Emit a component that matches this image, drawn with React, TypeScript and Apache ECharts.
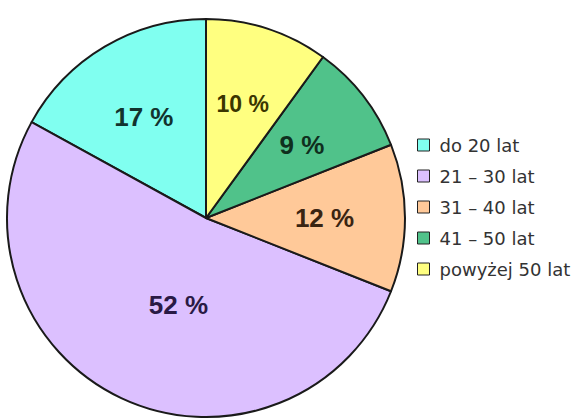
import React, { useEffect, useRef } from "react";
import * as echarts from "echarts";

const categories = ["do 20 lat", "21 – 30 lat", "31 – 40 lat", "41 – 50 lat", "powyżej 50 lat"];
const values = [17, 52, 12, 9, 10];
const colors = ["#80FFF0", "#DCC0FF", "#FFC999", "#50C28A", "#FFFF80"];
const labelColors = ["#12332e", "#2a1a45", "#3a2412", "#0f2f1e", "#3a3600"];
// label nudges (style only)
const labelNudge = [
  [-10, -13],
  [16, -6],
  [16, 0],
  [15, -10],
  [5, -17],
];

export default function App() {
  const ref = useRef<HTMLDivElement>(null);
  useEffect(() => {
    document.body.style.margin = "0";
    const chart = echarts.init(ref.current!, undefined, { renderer: "svg" });
    chart.setOption({
      animation: false,
      backgroundColor: "#ffffff",
      legend: {
        orient: "vertical",
        left: 412,
        top: 131,
        itemWidth: 12,
        itemHeight: 12,
        itemGap: 13,
        icon: "rect",
        itemStyle: { borderColor: "#222", borderWidth: 1 },
        textStyle: {
          fontFamily: "'DejaVu Sans', Verdana, sans-serif",
          fontSize: 18,
          color: "#333",
          padding: [0, 0, 0, 5],
        },
        data: categories,
      },
      series: [
        {
          type: "pie",
          center: [206, 218],
          radius: [0, 199],
          startAngle: 90,
          clockwise: false,
          silent: true,
          label: {
            show: true,
            position: "inside",
            formatter: "{c} %",
            fontFamily: "Arial, 'Liberation Sans', sans-serif",
            fontWeight: "bold",
            fontSize: 26,
          },
          labelLine: { show: false },
          labelLayout: (p: any) => ({
            dx: labelNudge[p.dataIndex][0],
            dy: labelNudge[p.dataIndex][1],
          }),
          itemStyle: { borderColor: "#1a1a1a", borderWidth: 2 },
          data: categories.map((name, i) => ({
            name,
            value: values[i],
            itemStyle: { color: colors[i] },
            label: {
              color: labelColors[i],
              fontSize: i === 4 ? 23 : 26,
            },
          })),
        },
      ],
    });
    return () => chart.dispose();
  }, []);
  return <div ref={ref} style={{ width: 577, height: 419 }} />;
}
